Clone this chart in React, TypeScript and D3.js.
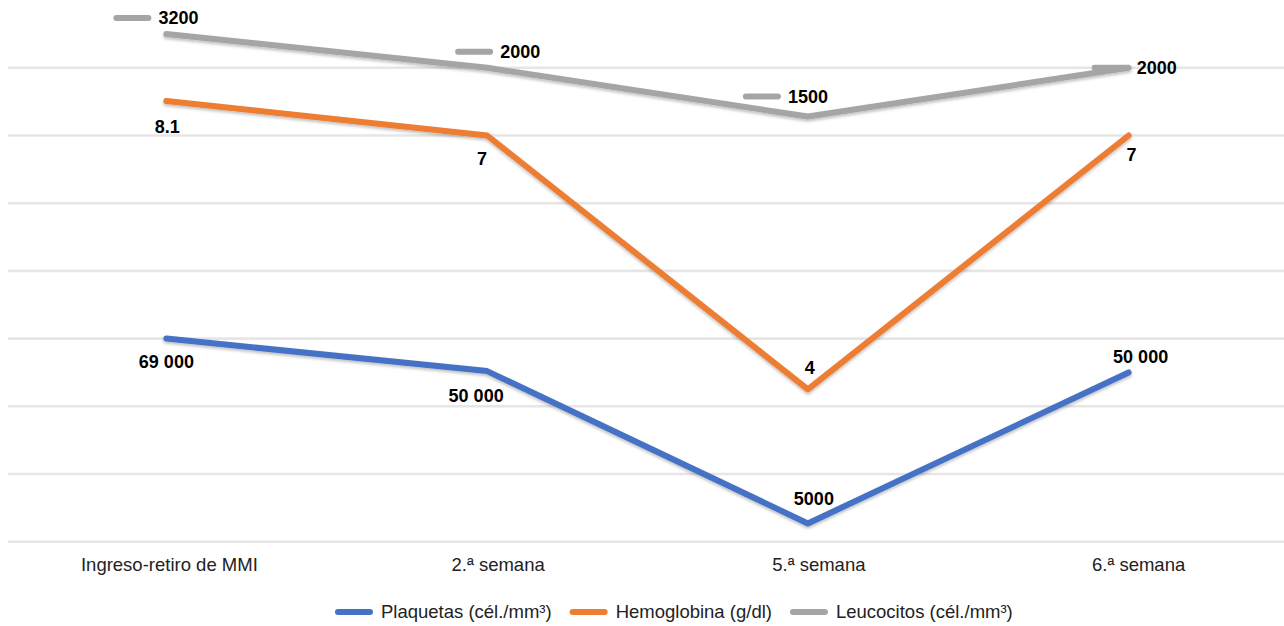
import React from 'react';
import * as d3 from 'd3';

// ---- data ----
const categories = ['Ingreso-retiro de MMI', '2.ª semana', '5.ª semana', '6.ª semana'];
const seriesNames = ['Plaquetas (cél./mm³)', 'Hemoglobina (g/dl)', 'Leucocitos (cél./mm³)'];
// plotted positions (chart units, gridline = 1)
const plaquetasPlot = [3.0, 2.52, 0.27, 2.5];
const hemoglobinaPlot = [6.51, 6.0, 2.25, 6.0];
const leucocitosPlot = [7.5, 7.0, 6.28, 7.0];
// data labels shown
const plaquetasLabels = ['69 000', '50 000', '5000', '50 000'];
const hemoglobinaLabels = ['8.1', '7', '4', '7'];
const leucocitosLabels = ['3200', '2000', '1500', '2000'];
const gridTicks = [0, 1, 2, 3, 4, 5, 6, 7];

// ---- layout / style ----
const W = 1284;
const H = 626;
const colors = ['#4472C4', '#ED7D31', '#A5A5A5'];
const FONT = '"Liberation Sans", Arial, Helvetica, sans-serif';
const CAT_FONT_SIZE = 18.5;
// label offsets relative to points [dx, dy]
const plaqOffsets = [[0, 23], [-11, 25], [6, -25], [12, -16]];
const hemoOffsets = [[1, 26], [-5, 23], [2, -22], [3, 19]];
// leucocitos: text-start dx, center dy (key drawn to the left of text)
const leucOffsets = [[-8, -16], [13, -16], [-20, -20], [8, 0]];
const catLabelDx = [3, 11, 11, 10];

function measure(text: string, size: number): number {
  try {
    const ctx = document.createElement('canvas').getContext('2d');
    if (ctx) {
      ctx.font = `${size}px "Liberation Sans", Arial, sans-serif`;
      return ctx.measureText(text).width;
    }
  } catch (e) {
    /* ignore */
  }
  return text.length * size * 0.5;
}

export default function App() {
  const x = d3.scaleBand<string>().domain(categories).range([6, 1289]).padding(0);
  const cx = (c: string) => (x(c) as number) + x.bandwidth() / 2;
  const y = d3.scaleLinear().domain([0, 8]).range([541.7, 0.1]);

  const series = [plaquetasPlot, hemoglobinaPlot, leucocitosPlot];
  const line = d3
    .line<number>()
    .x((_, i) => cx(categories[i]))
    .y((d) => y(d));

  const labelStyle: React.CSSProperties = { fontFamily: FONT, fontWeight: 700, fontSize: 18 };

  // legend positions
  const legendY = 612;
  let lx = 335;
  const legendItems = seriesNames.map((name, i) => {
    const tw = measure(name, CAT_FONT_SIZE);
    const item = { name, color: colors[i], keyX: lx, textX: lx + 46 };
    lx = item.textX + tw + 18;
    return item;
  });

  return (
    <svg
      width={W}
      height={H}
      style={{ position: 'absolute', left: 0, top: 0, background: '#fff' }}
    >
      <defs>
        <filter id="shadow" x="-10%" y="-10%" width="120%" height="130%">
          <feDropShadow dx="0" dy="2" stdDeviation="1.6" floodColor="#000" floodOpacity="0.25" />
        </filter>
      </defs>
      {gridTicks.map((t) => (
        <line key={t} x1={8} x2={W} y1={y(t)} y2={y(t)} stroke="#e6e6e6" strokeWidth={2.6} />
      ))}
      {categories.map((c, i) => (
        <text
          key={c}
          x={cx(c) + catLabelDx[i]}
          y={565}
          dy="0.35em"
          textAnchor="middle"
          style={{ fontFamily: FONT, fontSize: CAT_FONT_SIZE }}
          fill="#222"
        >
          {c}
        </text>
      ))}
      {series.map((s, i) => (
        <path
          key={i}
          d={line(s) as string}
          fill="none"
          stroke={colors[i]}
          strokeWidth={6}
          strokeLinecap="round"
          strokeLinejoin="round"
          filter="url(#shadow)"
        />
      ))}
      {plaquetasPlot.map((v, i) => (
        <text
          key={'p' + i}
          x={cx(categories[i]) + plaqOffsets[i][0]}
          y={y(v) + plaqOffsets[i][1]}
          dy="0.35em"
          textAnchor="middle"
          style={labelStyle}
          fill="#000"
        >
          {plaquetasLabels[i]}
        </text>
      ))}
      {hemoglobinaPlot.map((v, i) => (
        <text
          key={'h' + i}
          x={cx(categories[i]) + hemoOffsets[i][0]}
          y={y(v) + hemoOffsets[i][1]}
          dy="0.35em"
          textAnchor="middle"
          style={labelStyle}
          fill="#000"
        >
          {hemoglobinaLabels[i]}
        </text>
      ))}
      {leucocitosPlot.map((v, i) => {
        const tx = cx(categories[i]) + leucOffsets[i][0];
        const ty = y(v) + leucOffsets[i][1];
        return (
          <g key={'l' + i}>
            <line
              x1={tx - 42}
              x2={tx - 10}
              y1={ty}
              y2={ty}
              stroke={colors[2]}
              strokeWidth={6}
              strokeLinecap="round"
            />
            <text x={tx} y={ty} dy="0.35em" textAnchor="start" style={labelStyle} fill="#000">
              {leucocitosLabels[i]}
            </text>
          </g>
        );
      })}
      {legendItems.map((it) => (
        <g key={it.name}>
          <line
            x1={it.keyX + 3}
            x2={it.keyX + 35}
            y1={legendY}
            y2={legendY}
            stroke={it.color}
            strokeWidth={6}
            strokeLinecap="round"
          />
          <text
            x={it.textX}
            y={legendY}
            dy="0.35em"
            style={{ fontFamily: FONT, fontSize: CAT_FONT_SIZE }}
            fill="#222"
          >
            {it.name}
          </text>
        </g>
      ))}
    </svg>
  );
}
